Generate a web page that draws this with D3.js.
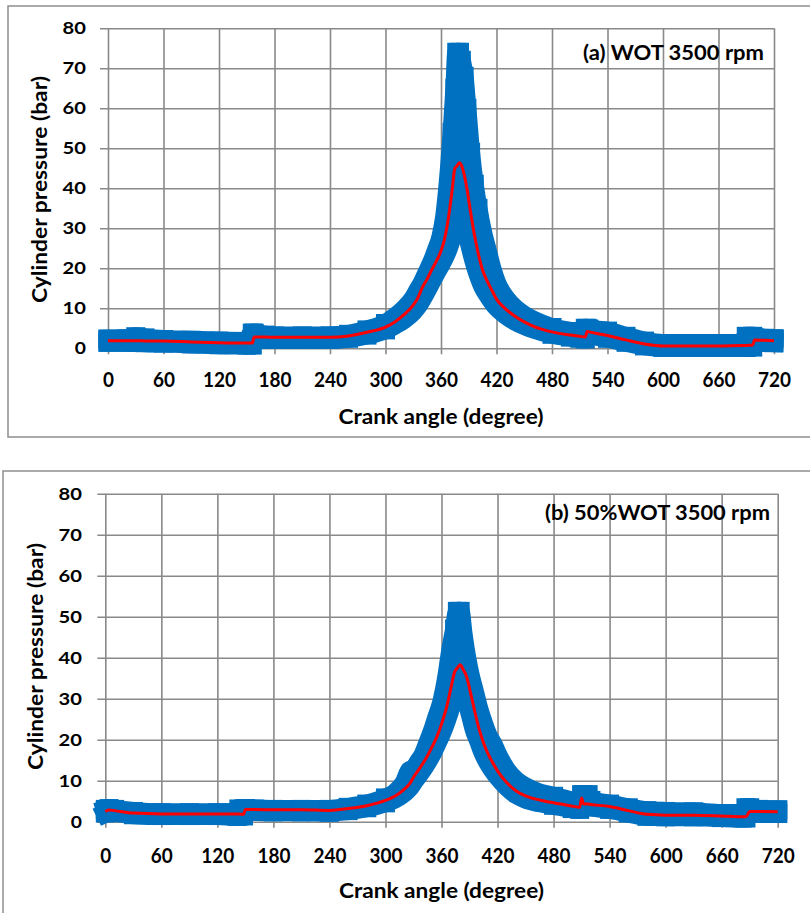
<!DOCTYPE html>
<html>
<head>
<meta charset="utf-8">
<script src="https://cdn.jsdelivr.net/npm/d3@7"></script>
<style>
  body { margin: 0; background: #fff; }
  svg { display: block; font-family: Lato, "Open Sans", sans-serif; }
</style>
</head>
<body>
<svg id="chart" width="810" height="913"></svg>
<script>
// axis ticks
const xTicks = [0, 60, 120, 180, 240, 300, 360, 420, 480, 540, 600, 660, 720];
const yTicks = [0, 10, 20, 30, 40, 50, 60, 70, 80];

// (a) WOT 3500 rpm : crank angle grid, mean trace (red), scatter envelope of cycles (blue)
const anglesA = [0, 20, 30, 40, 60, 90, 120, 150, 156, 158, 170, 180, 210, 240, 260, 280, 300, 310, 320, 330,
  335, 340, 345, 350, 355, 360, 364, 368, 372, 375, 377, 380, 382, 385, 388, 392, 396, 400, 405, 410,
  415, 420, 430, 440, 450, 460, 480, 500, 510, 516, 518, 520, 540, 560, 580, 600, 630, 660, 686, 690,
  697, 699, 710, 720];
const meanA = [1.9, 1.9, 1.9, 1.85, 1.8, 1.6, 1.4, 1.3, 1.3, 2.8, 2.8, 2.75, 2.75, 2.75, 3.1, 4.0, 5.3, 6.6, 8.4, 10.8,
  12.6, 15.3, 17.3, 19.6, 21.8, 24.3, 27.5, 32.5, 39.5, 45, 45.5, 46.4, 45.8, 43.5, 40, 34, 28.5, 24, 19.5, 16.8,
  14.5, 12.3, 9.8, 8, 6.6, 5.5, 4.1, 3.3, 3.0, 2.8, 4.2, 4.1, 3.2, 2.1, 1.1, 0.6, 0.6, 0.6, 0.7, 0.7,
  0.8, 2.1, 2.0, 1.9];
const upperA = [2.3, 2.4, 2.9, 2.6, 2.2, 2.0, 1.8, 1.7, 3.8, 3.8, 3.3, 3.1, 3.1, 3.1, 3.5, 4.6, 6.2, 7.8, 9.8, 12.5,
  14.5, 16.5, 19, 21.5, 24.5, 28, 33, 42, 54, 65, 74, 74, 72, 68, 60, 49, 41, 35, 29, 24.5,
  20, 16.5, 12.5, 10, 8.3, 7, 5.2, 4.2, 3.8, 5.0, 5.0, 4.8, 4.3, 3.0, 1.8, 1.2, 1.2, 1.2, 1.2, 3.0,
  3.0, 2.6, 2.5, 2.4];
const lowerA = [1.5, 1.5, 1.5, 1.4, 1.3, 1.1, 0.9, 0.8, 0.8, 2.2, 2.2, 2.2, 2.2, 2.2, 2.5, 3.3, 4.6, 5.8, 7.2, 9.2,
  10.6, 12.5, 14.6, 16.8, 19, 21, 22.8, 25, 28, 31.5, 35, 40, 38, 33, 29, 25, 21.5, 18.5, 15.5, 13.5,
  11.8, 10.3, 8.3, 6.8, 5.7, 4.8, 3.5, 2.8, 2.5, 2.3, 3.5, 3.4, 2.5, 1.5, 0.6, 0.2, 0.2, 0.2, 0.2, 0.2,
  0.3, 1.6, 1.5, 1.4];

// (b) 50%WOT 3500 rpm
const anglesB = [0, 4, 10, 30, 60, 90, 120, 141, 143, 148, 150, 160, 180, 210, 240, 260, 280, 300, 310, 320,
  326, 331, 335, 340, 345, 350, 355, 360, 365, 370, 374, 377, 380, 383, 387, 391, 395, 400, 405, 410,
  415, 420, 430, 440, 450, 465, 480, 500, 508, 510, 512, 517, 520, 540, 560, 580, 600, 630, 660, 682,
  686, 690, 700, 720];
const meanB = [2.5, 2.85, 2.7, 2.1, 1.9, 1.9, 1.9, 1.85, 1.85, 1.8, 3.0, 2.95, 2.9, 2.9, 2.75, 3.2, 3.9, 5.2, 6.2, 7.9,
  9.3, 11.2, 12.5, 14.2, 16.1, 18.3, 20.7, 23.8, 27.5, 32.5, 36.5, 37.5, 38.3, 37.2, 35.3, 31.5, 27.5, 22.8, 19.2, 16.5,
  14.3, 12.4, 9.5, 7.5, 6.3, 5.3, 4.6, 3.8, 3.5, 5.8, 4.4, 4.3, 4.2, 3.7, 2.7, 1.8, 1.6, 1.6, 1.4, 1.2,
  1.2, 2.5, 2.5, 2.45];
const upperB = [3.0, 3.2, 3.0, 2.5, 2.2, 2.2, 2.2, 2.2, 3.1, 3.1, 3.2, 3.1, 3.0, 3.0, 3.0, 3.5, 4.3, 5.8, 7.0, 9.5,
  12.5, 13, 14.5, 16.2, 19, 22, 25.5, 29, 34.5, 42, 47, 51.3, 51.3, 46, 40, 35.5, 32, 27.5, 24, 21,
  19, 16.5, 12.5, 10, 8.5, 7, 6.2, 5, 4.6, 6.6, 6.6, 6.6, 5.2, 4.3, 3.4, 2.7, 2.5, 2.4, 2.0, 2.0,
  3.4, 3.4, 3.0, 2.9];
const lowerB = [2.1, 2.4, 2.3, 1.7, 1.5, 1.5, 1.5, 1.3, 1.4, 1.4, 2.5, 2.5, 2.4, 2.4, 2.3, 2.7, 3.4, 4.6, 5.5, 7.0,
  8.3, 10, 11.2, 12.8, 14.6, 16.6, 19, 21.5, 24.5, 28, 32, 34.5, 36, 33.5, 29.5, 26, 22.5, 19.5, 16.5, 14.3,
  12.5, 11, 8.5, 6.6, 5.5, 4.6, 4.0, 3.2, 3.0, 4.4, 3.8, 3.7, 3.6, 3.0, 2.1, 1.3, 1.2, 1.2, 1.0, 0.9,
  0.9, 2.0, 2.0, 2.0];

const BLUE = "#0070C0";
const RED = "#FF0000";
const GRID = "#898989";
const MARK = 19;

const panels = [
  { title: "(a) WOT 3500 rpm", angles: anglesA, mean: meanA, upper: upperA, lower: lowerA,
    frame: [8, 6, 830, 431], x0: 108, x1: 774, y0: 348.3, y1: 28.3,
    titleX: 764, titleY: 60, titleLen: 181, yPad: 14, xPad: 23.5, xTitleY: 424, yTitleX: 46.7, yTitleCy: 189.5 },
  { title: "(b) 50%WOT 3500 rpm", angles: anglesB, mean: meanB, upper: upperB, lower: lowerB,
    frame: [3, 471, 830, 470], x0: 105.3, x1: 777.7, y0: 821.7, y1: 493.7,
    titleX: 770, titleY: 520, titleLen: 225, yPad: 15.3, xPad: 26.7, xTitleY: 898.3, yTitleX: 43, yTitleCy: 656.5 }
];

const svg = d3.select("#chart");

function drawPanel(p) {
  const x = d3.scaleLinear().domain([0, 720]).range([p.x0, p.x1]);
  const y = d3.scaleLinear().domain([0, 80]).range([p.y0, p.y1]);
  const g = svg.append("g");

  // outer chart frame
  g.append("rect")
    .attr("x", p.frame[0]).attr("y", p.frame[1])
    .attr("width", p.frame[2]).attr("height", p.frame[3])
    .attr("fill", "none").attr("stroke", "#8e8e8e").attr("stroke-width", 1.5);

  // vertical gridlines (with tick stubs below the axis)
  g.append("g")
    .attr("transform", `translate(0,${p.y0 + 6})`)
    .call(d3.axisBottom(x).tickValues(xTicks).tickSize(-(p.y0 - p.y1 + 6)).tickFormat(""))
    .call((s) => s.select(".domain").remove())
    .selectAll("line").attr("stroke", GRID).attr("stroke-width", 1.6);

  // horizontal gridlines + y labels
  const yAx = g.append("g")
    .attr("transform", `translate(${p.x0 - 8},0)`)
    .call(d3.axisLeft(y).tickValues(yTicks).tickSize(-(p.x1 - p.x0 + 8)).tickPadding(p.yPad).tickFormat(d3.format("d")))
    .call((s) => s.select(".domain").remove());
  yAx.selectAll("line").attr("stroke", GRID).attr("stroke-width", 1.6);
  yAx.selectAll("text")
    .attr("fill", "#000").attr("font-size", 17).attr("font-weight", 700)
    .attr("font-family", "Lato, sans-serif")
    .attr("lengthAdjust", "spacingAndGlyphs")
    .attr("textLength", (d) => String(d).length * 12.2 - 1);

  // x labels
  const xAx = g.append("g")
    .attr("transform", `translate(0,${p.y0})`)
    .call(d3.axisBottom(x).tickValues(xTicks).tickSize(0).tickPadding(p.xPad).tickFormat(d3.format("d")))
    .call((s) => s.select(".domain").remove());
  xAx.selectAll("text")
    .attr("fill", "#000").attr("font-size", 21).attr("font-weight", 700)
    .attr("font-family", "Lato, sans-serif")
    .attr("lengthAdjust", "spacingAndGlyphs")
    .attr("textLength", (d) => String(d).length * 11);

  const pts = p.angles.map((a, i) => ({ a: a, m: p.mean[i], u: p.upper[i], l: p.lower[i] }));

  // blue scatter band of individual cycles
  const area = d3.area()
    .x((d) => x(d.a))
    .y0((d) => y(d.l))
    .y1((d) => y(d.u))
    .curve(d3.curveMonotoneX);
  g.append("path").datum(pts).attr("d", area).attr("fill", BLUE);

  ["u", "l"].forEach((k) => {
    const ln = d3.line().x((d) => x(d.a)).y((d) => y(d[k])).curve(d3.curveMonotoneX);
    g.append("path").datum(pts).attr("d", ln)
      .attr("fill", "none").attr("stroke", BLUE)
      .attr("stroke-width", MARK).attr("stroke-linecap", "square").attr("stroke-linejoin", "round");
  });

  // square markers: flat parts (square steps) and the widest scatter around the peak
  const marked = pts.filter((d) => d.u < 7 || d.u - d.m > 10);
  ["u", "l"].forEach((k) => {
    g.selectAll(null).data(marked.filter((d) => k === "u" || d.u < 7)).enter().append("rect")
      .attr("x", (d) => x(d.a) - MARK / 2)
      .attr("y", (d) => y(d[k]) - MARK / 2)
      .attr("width", MARK).attr("height", MARK)
      .attr("fill", BLUE);
  });

  // mean trace
  const meanLine = d3.line().x((d) => x(d.a)).y((d) => y(d.m)).curve(d3.curveMonotoneX);
  g.append("path").datum(pts).attr("d", meanLine)
    .attr("fill", "none").attr("stroke", RED).attr("stroke-width", 3);

  // panel label
  g.append("text")
    .attr("x", p.titleX).attr("y", p.titleY)
    .attr("text-anchor", "end")
    .attr("font-size", 21).attr("font-weight", 700)
    .attr("lengthAdjust", "spacingAndGlyphs").attr("textLength", p.titleLen)
    .text(p.title);

  // axis titles
  g.append("text")
    .attr("x", (p.x0 + p.x1) / 2).attr("y", p.xTitleY)
    .attr("text-anchor", "middle")
    .attr("font-size", 20.5).attr("font-weight", 700)
    .attr("lengthAdjust", "spacingAndGlyphs").attr("textLength", 205)
    .text("Crank angle (degree)");

  g.append("text")
    .attr("transform", `translate(${p.yTitleX},${p.yTitleCy}) rotate(-90)`)
    .attr("text-anchor", "middle")
    .attr("font-size", 21).attr("font-weight", 700)
    .attr("lengthAdjust", "spacingAndGlyphs").attr("textLength", 227)
    .text("Cylinder pressure (bar)");
}

panels.forEach(drawPanel);
</script>
</body>
</html>
